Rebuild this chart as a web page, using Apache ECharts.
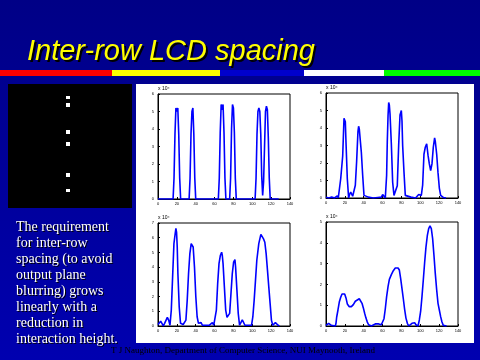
<!DOCTYPE html>
<html><head><meta charset="utf-8">
<script src="https://cdn.jsdelivr.net/npm/echarts@6/dist/echarts.min.js"></script>
<style>html,body{margin:0;padding:0;background:#000090}#c{width:480px;height:360px}</style>
</head><body><div id="c"></div>
<script>
const titleText = 'Inter-row LCD spacing';
const bodyLines = ['The requirement', 'for inter-row', 'spacing (to avoid', 'output plane', 'blurring) grows', 'linearly with a', 'reduction in', 'interaction height.'];
const footerText = 'T J Naughton, Department of Computer Science, NUI Maynooth, Ireland';
const scaleLabel = 'x 10\u2074';
const xMin = 0, xMax = 140, xStep = 20;
const yMaxes = [6, 6, 7, 5];

const tlData = [[0,0],[13,0],[14,0.05],[15,0],[16,0],[17,1.2],[18,3.7],[19,5.2],[20,5.0],[21,5.2],[22,3.7],[23,1.2],[24,0],[28,0],[29,0.05],[30,0],[33,0],[34,1.2],[35,3.7],[36,5.0],[37,5.2],[38,3.7],[39,1.2],[40,0],[60,0],[61,0.05],[62,0],[64,0],[65,1.2],[66,3.8],[67,5.4],[68,5.1],[69,5.4],[70,3.8],[71,1.2],[72,0],[76,0],[77,1.2],[78,4.0],[79,5.4],[80,5.2],[81,3.8],[82,1.2],[83,0],[97,0],[98,0.05],[99,0],[103,0],[104,1.2],[105,3.7],[106,5.0],[107,5.2],[108,5.0],[109,3.7],[110,1.3],[111,0.2],[112,1.0],[113,3.0],[114,5.0],[115,5.3],[116,5.1],[117,3.5],[118,1.2],[119,0],[128,0]];

const trData = [[0,0.04],[3,0],[6,0.05],[9,0],[11,0.1],[12,0.12],[13,0],[14.1,0.1],[15.6,1.1],[17.7,2.4],[19.1,4.55],[19.8,4.66],[20.5,4.35],[21.2,3.2],[22.6,1.1],[24,0],[25,0.2],[26.2,0.34],[27.2,0.3],[28.3,0.1],[29.7,0],[31.1,0.73],[32.5,2.1],[33.9,3.8],[34.6,4.1],[35.3,3.95],[36.1,4.0],[37.5,2.6],[38.9,1.3],[40.3,0.15],[41.7,0.05],[45,0.05],[50,0],[55,0.03],[58.7,0.05],[60.1,0.2],[61.5,0.2],[62.9,0],[64.3,1.3],[65,3.2],[65.8,4.7],[66.5,5.46],[67.2,5.3],[67.9,4.8],[69.3,3.1],[70.7,0.9],[72.1,0.15],[73.2,0.2],[74.2,0.2],[75.6,0.7],[77.1,3.05],[78.5,4.74],[79.9,5.0],[80.6,4.4],[81.3,3.0],[82.7,1.5],[84.1,0.15],[85.5,0.05],[90,0.05],[95,0],[98.3,0.2],[99.5,0.1],[101.1,0.15],[102.5,0.73],[103.9,2.5],[105.3,2.9],[106.8,3.1],[108.2,2.45],[109.6,1.95],[111,1.57],[112.4,1.95],[113.8,2.9],[115.2,3.44],[116,3.2],[117.4,2.5],[118.8,1.45],[120.2,0.57],[121.6,0.15],[123,0.15],[124.4,0.03],[127.3,0]];

const blData = [[0,0.1],[1.4,0.18],[2.8,0.32],[4.2,0.18],[5.6,0],[7.0,0.18],[8.4,0.05],[9.9,0.59],[11.3,0.4],[12.7,0.05],[14.1,1.08],[15.5,3.34],[16.9,5.6],[18.3,6.32],[19.0,6.64],[19.7,6.36],[20.4,5.37],[21.1,3.57],[22.5,1.3],[23.9,0.18],[25.3,0.05],[26.7,0.1],[28.1,0.05],[29.6,0.4],[31.0,1.76],[32.4,3.57],[33.8,4.92],[35.2,5.6],[36.6,5.73],[37.3,5.37],[38.7,4.0],[40.1,2.0],[41.5,0.63],[42.9,0.18],[44.3,0.05],[45.7,0.23],[47.1,0.05],[50,0.05],[52.1,0.05],[54.2,0.05],[56.3,0.14],[57.7,0.23],[59.1,0.05],[60.5,0.05],[61.9,1.08],[63.3,2.9],[64.7,4.24],[66.1,4.79],[67.5,5.01],[68.2,4.79],[69.0,4.24],[70.4,2.66],[71.8,1.08],[73.2,0.59],[74.6,0.5],[76.0,0.86],[77.4,2.21],[78.8,3.57],[80.2,4.34],[81.6,4.52],[82.3,4.0],[83.7,2.44],[85.1,0.86],[86.5,0.05],[87.9,0.23],[89.4,0.41],[90.8,0.32],[92.2,0.05],[95.7,0.05],[97.8,0.18],[99.2,0.05],[100.6,0.63],[102.0,1.76],[103.4,3.1],[104.8,4.47],[106.9,5.6],[109.1,6.23],[110.5,6.14],[111.9,5.92],[113.3,5.69],[114.7,4.92],[116.1,3.8],[117.5,2.66],[118.9,1.54],[120.3,0.4],[121.7,0.05],[123.1,0.1],[124.5,0.23],[126.0,0.32],[127.4,0.05],[128.8,0]];

const brData = [[0,0.03],[1.4,0.1],[2.8,0.13],[4.2,0.06],[5.7,0.03],[7.8,0],[9.9,0],[10.6,0.13],[11.3,0.42],[12.7,0.77],[14.1,1.15],[15.6,1.38],[17.0,1.54],[18.4,1.6],[19.8,1.54],[21.2,1.35],[22.6,1.06],[24.7,0.93],[26.9,0.93],[29.0,1.03],[31.1,1.19],[33.2,1.28],[35.3,1.31],[36.8,1.25],[38.2,1.09],[39.6,0.87],[41.0,0.61],[42.4,0.38],[43.8,0.19],[45.2,0.06],[46.7,0],[48.1,0],[50.2,0.03],[52.3,0.1],[55.9,0.1],[58.7,0.06],[60.1,0.13],[61.5,0.35],[62.9,0.83],[64.3,1.41],[65.8,1.89],[67.2,2.24],[69.3,2.47],[71.4,2.66],[73.5,2.79],[74.9,2.82],[76.4,2.79],[77.8,2.69],[79.2,2.28],[80.6,1.8],[82.0,1.31],[83.4,0.8],[84.8,0.38],[86.3,0.13],[87.7,0],[89.8,0.06],[91.2,0.13],[92.6,0.19],[94.0,0.16],[95.4,0.06],[97.6,0],[99.0,0.29],[100.4,0.71],[101.8,1.41],[103.2,2.21],[104.6,3.04],[106.0,3.78],[107.5,4.36],[108.9,4.68],[110.3,4.81],[111.7,4.68],[113.1,4.2],[114.5,3.4],[115.9,2.53],[117.4,1.73],[118.8,1.09],[120.2,0.77],[121.6,0.45],[123.0,0.19],[124.4,0.03],[125.8,0],[127.9,0]];

const seriesData = [tlData, trData, blData, brData];

// layout (pixels)
const gridBoxes = [
  {left:158, top:94, width:132, height:105},
  {left:326, top:93, width:132, height:105},
  {left:158, top:223, width:132, height:103},
  {left:326, top:222, width:132, height:104}
];
const dotYs = [96, 103, 130, 142, 173, 189];
const dotHs = [3, 4, 4, 4, 4, 3];

const grids = [], xAxes = [], yAxes = [], series = [];
gridBoxes.forEach((g, i) => {
  grids.push(Object.assign({show:true, borderColor:'#000', borderWidth:1, backgroundColor:'rgba(0,0,0,0)'}, g));
  xAxes.push({type:'value', gridIndex:i, min:xMin, max:xMax, interval:xStep,
    axisLine:{show:true, lineStyle:{color:'#000', width:1}},
    axisTick:{show:true, inside:true, length:2, lineStyle:{color:'#000'}},
    axisLabel:{show:true, fontSize:4, color:'#000', margin:3},
    splitLine:{show:false}});
  yAxes.push({type:'value', gridIndex:i, min:0, max:yMaxes[i], interval:1,
    axisLine:{show:true, lineStyle:{color:'#000', width:1}},
    axisTick:{show:true, inside:true, length:2, lineStyle:{color:'#000'}},
    axisLabel:{show:true, fontSize:4, color:'#000', margin:4},
    splitLine:{show:false}});
  series.push({type:'line', xAxisIndex:i, yAxisIndex:i, data:seriesData[i], showSymbol:false,
    lineStyle:{color:'#0000ff', width:1.6}, animation:false, silent:true});
});

const graphic = [];
graphic.push({type:'rect', z:-100, shape:{x:0,y:0,width:480,height:360},
  style:{fill:new echarts.graphic.LinearGradient(0,0,0,1,[{offset:0,color:'#000086'},{offset:1,color:'#0000b0'}])}});
// colour bar
[[0,112,'#ff0000'],[112,108,'#ffff00'],[220,84,'#0000cc'],[304,80,'#ffffff'],[384,96,'#00ff00']].forEach(b => {
  graphic.push({type:'rect', z:-90, shape:{x:b[0], y:70, width:b[1], height:6}, style:{fill:b[2]}});
});
// title
graphic.push({type:'text', z:10, x:29, y:54, style:{text:titleText, fill:'#000', font:'italic 29px "Liberation Sans", Arial, sans-serif', verticalAlign:'middle'}});
graphic.push({type:'text', z:11, x:27, y:52, style:{text:titleText, fill:'#ffff00', font:'italic 29px "Liberation Sans", Arial, sans-serif', verticalAlign:'middle'}});
// black image box
graphic.push({type:'rect', z:-80, shape:{x:8, y:84, width:124, height:124}, style:{fill:'#000'}});
dotYs.forEach((y, k) => {
  graphic.push({type:'rect', z:-79, shape:{x:66, y:y, width:4, height:dotHs[k]}, style:{fill:'#fff'}});
});
// white panel
graphic.push({type:'rect', z:-80, shape:{x:136, y:84, width:338, height:259}, style:{fill:'#fff'}});
// body text
bodyLines.forEach((t, k) => {
  const y = 234 + 16 * k;
  graphic.push({type:'text', z:10, x:17, y:y+1, style:{text:t, fill:'#000', font:'14px "Liberation Serif", serif', verticalAlign:'bottom'}});
  graphic.push({type:'text', z:11, x:16, y:y, style:{text:t, fill:'#fff', font:'14px "Liberation Serif", serif', verticalAlign:'bottom'}});
});
// footer
graphic.push({type:'text', z:10, x:111, y:351, style:{text:footerText, fill:'#000', font:'9px "Liberation Serif", serif', verticalAlign:'middle'}});
// scale labels
gridBoxes.forEach(g => {
  graphic.push({type:'text', z:10, x:g.left, y:g.top - 5, style:{text:scaleLabel, fill:'#000', font:'5px sans-serif', verticalAlign:'middle'}});
});

const chart = echarts.init(document.getElementById('c'), null, {renderer:'canvas', width:480, height:360});
chart.setOption({
  animation:false,
  backgroundColor:'#000090',
  grid:grids, xAxis:xAxes, yAxis:yAxes, series:series, graphic:graphic
});
</script></body></html>
